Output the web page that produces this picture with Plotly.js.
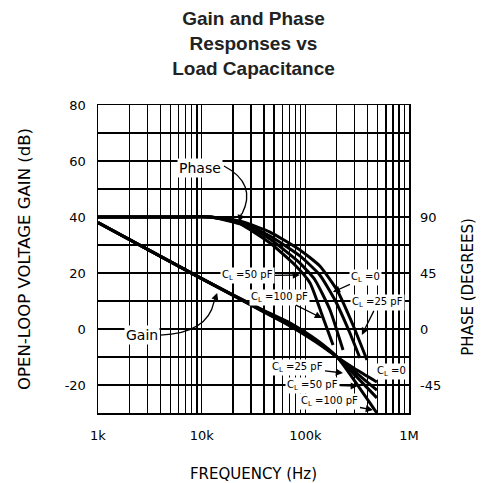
<!DOCTYPE html>
<html>
<head>
<meta charset="utf-8">
<script src="https://cdn.plot.ly/plotly-3.0.1.min.js"></script>
<style>html,body{margin:0;padding:0;background:#fff;}</style>
</head>
<body>
<div id="chart" style="width:485px;height:483px;"></div>
<script>
// ---- data ----
var gainFreq   = [1000, 10000, 40000, 70000, 100000, 150000, 205000, 300000, 490000];
var gainCL0    = [38, 18, 6, 1.2, -2.2, -6.5, -10.2, -14.2, -18.9];
var gainCL25   = [38, 18, 6.2, 1.5, -1.9, -6.3, -10.2, -15.2, -21.8];
var gainCL50   = [38, 18, 6.4, 1.9, -1.6, -6.1, -10.2, -16.4, -24.6];
var gainCL100  = [38, 18, 6.6, 2.3, -1.2, -5.8, -10.2, -18.6, -30];

var phaseFreqCL0   = [1000, 6000, 12000, 23400, 45600, 88700, 138000, 202000, 288000, 393000];
var phaseCL0       = [90, 90, 90, 86.8, 77.9, 63.5, 50.6, 31.3, 3.2, -24.9];
var phaseFreqCL25  = [1000, 6000, 12000, 23400, 45600, 88700, 138000, 193000, 269000, 336000];
var phaseCL25      = [90, 90, 90, 86, 74.7, 58.7, 43.4, 23.3, -3.2, -23.3];
var phaseFreqCL50  = [1000, 6000, 12000, 23400, 45600, 88700, 124000, 173000, 231000];
var phaseCL50      = [90, 90, 90, 85.2, 72.3, 53, 39.4, 15.3, -16.9];
var phaseFreqCL100 = [1000, 6000, 12000, 23400, 45600, 79400, 111000, 145000, 185000];
var phaseCL100     = [90, 90, 90, 84.4, 69.1, 51.4, 37, 11.3, -12.9];

var xTickVals = [1000, 10000, 100000, 1000000];
var xTickText = ['1k', '10k', '100k', '1M'];
var xMinorVals = [2000,3000,4000,5000,6000,7000,8000,9000,
                  20000,30000,40000,50000,60000,70000,80000,90000,
                  200000,300000,400000,500000,600000,700000,800000,900000];
var yTickVals = [-20, 0, 20, 40, 60, 80];
var yTickText = ['-20', '0', '20', '40', '60', '80'];
var yMinorVals = [-30, -10, 10, 30, 50, 70];
var y2TickVals = [-45, 0, 45, 90];
var y2TickText = ['-45', '0', '45', '90'];

var titleText = 'Gain and Phase<br>Responses vs<br>Load Capacitance';
var xTitle = 'FREQUENCY (Hz)';
var yTitle = 'OPEN-LOOP VOLTAGE GAIN (dB)';
var y2Title = 'PHASE (DEGREES)';

// ---- chart ----
var lineStyle = {color: '#000', width: 3, shape: 'spline', smoothing: 0.5};
function tr(x, y, name, axis) {
  return {x: x, y: y, name: name, mode: 'lines', line: lineStyle,
          yaxis: axis || 'y', hoverinfo: 'skip', showlegend: false};
}
var traces = [
  tr(gainFreq, gainCL0, 'Gain C_L=0'),
  tr(gainFreq, gainCL25, 'Gain C_L=25 pF'),
  tr(gainFreq, gainCL50, 'Gain C_L=50 pF'),
  tr(gainFreq, gainCL100, 'Gain C_L=100 pF'),
  tr(phaseFreqCL0, phaseCL0, 'Phase C_L=0', 'y2'),
  tr(phaseFreqCL25, phaseCL25, 'Phase C_L=25 pF', 'y2'),
  tr(phaseFreqCL50, phaseCL50, 'Phase C_L=50 pF', 'y2'),
  tr(phaseFreqCL100, phaseCL100, 'Phase C_L=100 pF', 'y2')
];

var tickFont = {family: 'DejaVu Sans', size: 13, color: '#000'};
var labFont = {family: 'DejaVu Sans', size: 10, color: '#000'};
var bigLabFont = {family: 'DejaVu Sans', size: 14, color: '#000'};
var L = function(v) { return Math.log10(v); };

function lab(text, fx, dy, ax, ay, arrow) {
  var a = {text: text, x: L(fx), y: dy, xref: 'x', yref: 'y', font: labFont,
           bgcolor: '#fff', borderpad: 1, showarrow: !!arrow};
  if (arrow) {
    a.ax = ax; a.ay = ay; a.arrowhead = 2; a.arrowsize = 1.1; a.arrowwidth = 1.3;
    a.arrowcolor = '#000'; a.standoff = 0; a.startstandoff = 0;
  }
  return a;
}
function head(fx, dy, ax, ay) {
  return {text: '', x: L(fx), y: dy, xref: 'x', yref: 'y', showarrow: true,
          ax: ax, ay: ay, arrowhead: 2, arrowsize: 1.1, arrowwidth: 1.3, arrowcolor: '#000'};
}

var annotations = [
  {text: 'Phase', xref: 'paper', yref: 'paper', x: 0.328, y: 0.797, xanchor: 'center', yanchor: 'middle',
   font: bigLabFont, bgcolor: '#fff', borderpad: 1, showarrow: false},
  {text: 'Gain', xref: 'paper', yref: 'paper', x: 0.1415, y: 0.253, xanchor: 'center', yanchor: 'middle',
   font: bigLabFont, bgcolor: '#fff', borderpad: 1, showarrow: false},
  head(22900, 38.2, 3, -10),
  head(14100, 12.9, -3, 9),
  lab('C<sub>L</sub> =50 pF', 88700, 19.3, -52, 1, true),
  lab('C<sub>L</sub> =100 pF', 144500, 3.9, -42, -21, true),
  lab('C<sub>L</sub> =0', 184600, 13.2, 33, -15, true),
  lab('C<sub>L</sub> =25 pF', 351000, -2.1, 16, -32, true),
  lab('C<sub>L</sub> =25 pF', 230700, -15.7, -45, -5, true),
  lab('C<sub>L</sub> =50 pF', 321000, -20.4, -45, -1, true),
  lab('C<sub>L</sub> =100 pF', 449000, -28.9, -43, -8, true),
  lab('C<sub>L</sub> =0', 684000, -15, 0, 0, false),
  {text: y2Title, xref: 'paper', yref: 'paper', x: 1.225, y: 0.41, textangle: -90,
   showarrow: false, font: {family: 'DejaVu Sans', size: 15, color: '#000'}}
];

var shapes = [
  {type: 'path', xref: 'paper', yref: 'paper', path: 'M 0.405 0.802 Q 0.512 0.745 0.463 0.646',
   line: {color: '#000', width: 1.3}},
  {type: 'path', xref: 'paper', yref: 'paper', path: 'M 0.2000 0.253 Q 0.352 0.259 0.373 0.361',
   line: {color: '#000', width: 1.3}}
];

var gridStyle = {showgrid: true, gridcolor: '#000', gridwidth: 1.4};

var layout = {
  width: 485, height: 483,
  margin: {l: 98, r: 76, t: 105, b: 70},
  paper_bgcolor: '#fff', plot_bgcolor: '#fff',
  title: {text: titleText, font: {family: 'Liberation Sans, Arial, sans-serif', size: 19, color: '#222', weight: 'bold'},
          x: 0.5, xanchor: 'center', xref: 'paper', yref: 'container', y: 0.948, yanchor: 'top'},
  xaxis: {type: 'log', range: [3, 6], tickmode: 'array', tickvals: xTickVals, ticktext: xTickText,
          showgrid: true, gridcolor: '#000', gridwidth: 1.4, zeroline: false,
          minor: {tickmode: 'array', tickvals: xMinorVals, showgrid: true, gridcolor: '#000', gridwidth: 1.4, ticks: ''},
          showline: true, linecolor: '#000', linewidth: 1.5, mirror: true, ticks: '',
          tickfont: tickFont, ticklabelstandoff: 10,
          title: {text: xTitle, font: {family: 'DejaVu Sans', size: 15, color: '#000'}, standoff: 28}},
  yaxis: {range: [-30, 80], tickmode: 'array', tickvals: yTickVals, ticktext: yTickText,
          showgrid: true, gridcolor: '#000', gridwidth: 1.4, zeroline: false,
          minor: {tickmode: 'array', tickvals: yMinorVals, showgrid: true, gridcolor: '#000', gridwidth: 1.4, ticks: ''},
          showline: true, linecolor: '#000', linewidth: 1.5, mirror: true, ticks: '',
          tickfont: tickFont, ticklabelstandoff: 8,
          title: {text: yTitle, font: {family: 'DejaVu Sans', size: 16.5, color: '#000'}, standoff: 30}},
  yaxis2: {overlaying: 'y', side: 'right', range: [-67.5, 180], tickmode: 'array',
           tickvals: y2TickVals, ticktext: y2TickText, showgrid: false, zeroline: false,
           showline: false, ticks: '', tickfont: tickFont, ticklabelstandoff: 10},
  annotations: annotations,
  shapes: shapes,
  showlegend: false
};

Plotly.newPlot('chart', traces, layout, {displayModeBar: false, staticPlot: true});
</script>
</body>
</html>
